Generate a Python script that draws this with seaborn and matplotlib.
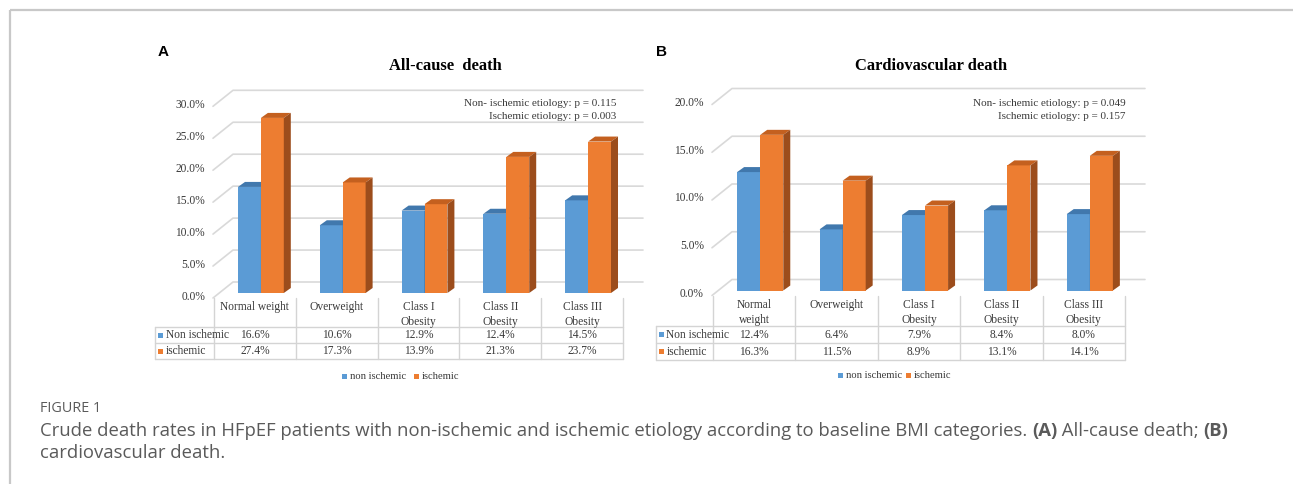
import numpy as np
import pandas as pd
import matplotlib
matplotlib.use("Agg")
import matplotlib.pyplot as plt
from matplotlib.patches import Polygon, Rectangle
import seaborn as sns

# ---- data ----
categories_a = ["Normal weight", "Overweight", "Class I\nObesity", "Class II\nObesity", "Class III\nObesity"]
categories_b = ["Normal\nweight", "Overweight", "Class I\nObesity", "Class II\nObesity", "Class III\nObesity"]
groups = ["non ischemic", "ischemic"]
row_labels = ["Non ischemic", "ischemic"]

allcause_non_ischemic = [16.6, 10.6, 12.9, 12.4, 14.5]
allcause_ischemic = [27.4, 17.3, 13.9, 21.3, 23.7]
cardio_non_ischemic = [12.4, 6.4, 7.9, 8.4, 8.0]
cardio_ischemic = [16.3, 11.5, 8.9, 13.1, 14.1]

ticks_a = [0, 5, 10, 15, 20, 25, 30]
ticks_b = [0, 5, 10, 15, 20]
pvals_a = ["Non- ischemic etiology: p = 0.115", "Ischemic etiology: p = 0.003"]
pvals_b = ["Non- ischemic etiology: p = 0.049", "Ischemic etiology: p = 0.157"]

BLUE, ORANGE = "#5b9bd5", "#ed7d31"
BLUE_TOP, BLUE_SIDE = "#4178ad", "#3b6c9c"
ORANGE_TOP, ORANGE_SIDE = "#c4601f", "#9c4d1c"
GRID = "#d9d9d9"
SERIF = "Liberation Serif"
TXT = "#3a3a3a"

W, H = 1293, 484
sns.set_theme(style="white")
plt.rcParams["font.family"] = [SERIF, "DejaVu Serif"]

fig = plt.figure(figsize=(W / 100, H / 100), dpi=100)
fig.patch.set_facecolor("white")

# full-figure overlay in pixel units (y grows downward)
ov = fig.add_axes([0, 0, 1, 1], zorder=0)
ov.set_xlim(0, W)
ov.set_ylim(H, 0)
ov.axis("off")


def panel(cats, non, isch, ticks, pvals, title, letter, g):
    col_left, col_w, y0, ppy = g["col_left"], g["col_w"], g["y0"], g["ppy"]
    wall_right, top = g["wall_right"], g["top"]
    ax = fig.add_axes([col_left / W, 1 - y0 / H, (wall_right - col_left) / W, (y0 - top) / H], zorder=2)
    ax.patch.set_alpha(0)

    df = pd.DataFrame({
        "category": cats * 2,
        "group": [groups[0]] * len(cats) + [groups[1]] * len(cats),
        "value": list(non) + list(isch),
    })
    sns.barplot(data=df, x="category", y="value", hue="group", order=cats,
                hue_order=groups, palette=[BLUE, ORANGE], width=0.56,
                saturation=1, legend=False, ax=ax, linewidth=0)

    xmax = -0.5 + (wall_right - col_left) / col_w
    ax.set_xlim(-0.5, xmax)
    ax.set_ylim(0, (y0 - top) / ppy)
    ax.axis("off")

    # receding gridlines (3-D back wall)
    for v in ticks:
        ax.plot([-0.5 - 1 / col_w, -0.5 + 19 / col_w, xmax],
                [v - 5 / ppy, v + 11 / ppy, v + 11 / ppy],
                color=GRID, lw=1.2, clip_on=False, zorder=0.5)
        ax.text(-0.5 - 9 / col_w, v - 3.5 / ppy, f"{v:.1f}%", ha="right", va="center",
                fontsize=8.3, color=TXT, clip_on=False)

    # front faces shifted slightly, with top and side faces for depth
    shift = 6 / col_w
    dx, dy = 7 / col_w, 5 / ppy
    n = len(cats)
    for i, p in enumerate(ax.patches):
        k = i // n
        p.set_x(p.get_x() + shift)
        z = 2 + k
        p.set_zorder(z)
        x0 = p.get_x()
        x1 = x0 + p.get_width()
        h = p.get_height()
        top_c, side_c = (BLUE_TOP, BLUE_SIDE) if k == 0 else (ORANGE_TOP, ORANGE_SIDE)
        ax.add_patch(Polygon([(x0, h), (x1, h), (x1 + dx, h + dy), (x0 + dx, h + dy)],
                             closed=True, fc=top_c, ec="none", zorder=z, clip_on=False))
        ax.add_patch(Polygon([(x1, 0), (x1 + dx, dy), (x1 + dx, h + dy), (x1, h)],
                             closed=True, fc=side_c, ec="none", zorder=z, clip_on=False))

    # data table below the plot
    t_left, hdr_top, r1, r2, r3 = g["t_left"], g["hdr_top"], g["r1"], g["r2"], g["r3"]
    t_right = col_left + col_w * len(cats)
    lc = "#d4d4d4"
    for k in range(len(cats) + 1):
        xk = col_left + k * col_w
        ov.plot([xk, xk], [hdr_top, r3], color=lc, lw=1)
    ov.plot([t_left, t_left], [r1, r3], color=lc, lw=1)
    for yy in (r1, r2, r3):
        ov.plot([t_left, t_right], [yy, yy], color=lc, lw=1)
    for k, c in enumerate(cats):
        cx = col_left + (k + 0.5) * col_w
        ov.text(cx, hdr_top + 3, c, ha="center", va="top", fontsize=8.3,
                color=TXT, linespacing=1.3)
        ov.text(cx, (r1 + r2) / 2 + 0.5, f"{non[k]:.1f}%", ha="center", va="center",
                fontsize=8.3, color=TXT)
        ov.text(cx, (r2 + r3) / 2 + 0.5, f"{isch[k]:.1f}%", ha="center", va="center",
                fontsize=8.3, color=TXT)
    for j, (lab, colr) in enumerate(zip(row_labels, [BLUE, ORANGE])):
        cy = (r1 + r2) / 2 if j == 0 else (r2 + r3) / 2
        ov.add_patch(Rectangle((t_left + 3, cy - 2.5), 5, 5, fc=colr, ec="none"))
        ov.text(t_left + 10.5, cy + 0.5, lab, ha="left", va="center", fontsize=8.3,
                color=TXT)

    # legend
    lx, ly = g["leg_x"], g["leg_y"]
    ov.add_patch(Rectangle((lx, ly - 2.5), 5, 5, fc=BLUE, ec="none"))
    ov.text(lx + 8, ly + 0.5, groups[0], ha="left", va="center", fontsize=7.6, color=TXT)
    ov.add_patch(Rectangle((lx + g["leg_gap"], ly - 2.5), 5, 5, fc=ORANGE, ec="none"))
    ov.text(lx + g["leg_gap"] + 8, ly + 0.5, groups[1], ha="left", va="center", fontsize=7.6,
            color=TXT)

    # titles and annotations
    ov.text(g["title_x"], 66, title, ha="center", va="center", fontsize=11.9,
            fontweight="bold", color="black")
    ov.text(g["letter_x"], 52, letter, ha="left", va="center", fontsize=11,
            fontweight="bold", family="Liberation Sans", color="black")
    ov.text(g["p_x"], 103, pvals[0], ha="right", va="center", fontsize=8.0, color=TXT)
    ov.text(g["p_x"], 116.5, pvals[1], ha="right", va="center", fontsize=8.0, color=TXT)
    return ax


geom_a = dict(col_left=214, col_w=81.8, y0=293, ppy=6.39, wall_right=643, top=80,
              t_left=155, hdr_top=298, r1=327, r2=343, r3=359,
              leg_x=342, leg_y=376, leg_gap=72, title_x=445, letter_x=158, p_x=616)
geom_b = dict(col_left=713, col_w=82.4, y0=290.5, ppy=9.55, wall_right=1145, top=80,
              t_left=656, hdr_top=296, r1=326, r2=343, r3=360,
              leg_x=838, leg_y=375, leg_gap=68, title_x=931, letter_x=656, p_x=1126)

panel(categories_a, allcause_non_ischemic, allcause_ischemic, ticks_a, pvals_a,
      "All-cause  death", "A", geom_a)
panel(categories_b, cardio_non_ischemic, cardio_ischemic, ticks_b, pvals_b,
      "Cardiovascular death", "B", geom_b)

# frame of the figure box
ov.plot([10, W], [10, 10], color="#c8c8c8", lw=1.6, solid_capstyle="butt")
ov.plot([10, 10], [10, H], color="#c8c8c8", lw=1.6, solid_capstyle="butt")

# caption
CAP = "Open Sans"
CAP_C = "#5a5a5a"
CAP_FS = 13.3
ov.text(40, 408, "FIGURE 1", ha="left", va="center", fontsize=10.4, family=CAP, color=CAP_C)
pieces = [
    ("Crude death rates in HFpEF patients with non-ischemic and ischemic etiology according to baseline BMI categories. ", "normal"),
    ("(A)", "bold"),
    (" All-cause death; ", "normal"),
    ("(B)", "bold"),
]
prev = ov.text(40, 431, pieces[0][0], ha="left", va="center", fontsize=CAP_FS,
               family=CAP, color=CAP_C)
for txt, wgt in pieces[1:]:
    prev = ov.annotate(txt, xy=(1, 0), xycoords=prev, xytext=(0, 0), textcoords="offset points",
                       ha="left", va="bottom", fontsize=CAP_FS, family=CAP, color=CAP_C,
                       fontweight=wgt)
ov.text(40, 453, "cardiovascular death.", ha="left", va="center", fontsize=CAP_FS,
        family=CAP, color=CAP_C)

fig.savefig("out.png", dpi=100, facecolor="white")
